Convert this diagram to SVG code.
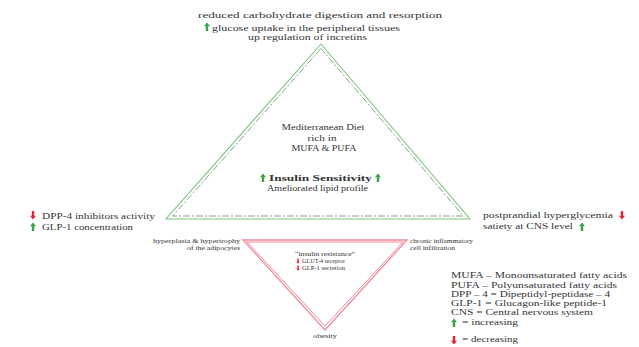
<svg xmlns="http://www.w3.org/2000/svg" width="639" height="347" viewBox="0 0 639 347">
<style>
text{font-family:"Liberation Serif","DejaVu Serif",serif;fill:#333;lengthAdjust:spacingAndGlyphs}
.s9{font-size:9px}
.s8{font-size:8px}
.s7{font-size:7.5px}
.s6{font-size:6px}
.b{font-weight:bold}
.gsol{fill:none;stroke:#7cc77c;stroke-width:1.1}
.gdash{fill:none;stroke:#5f8f5f;stroke-width:0.8;stroke-dasharray:7 2 2 2}
.rout{fill:none;stroke:#f28a9c;stroke-width:1.3}
.rin{fill:none;stroke:#e2556f;stroke-width:0.7}
</style>
<defs>
<path id="up" d="M0,-4.5 L3,-0.8 L1.2,-0.8 L1.2,4 L-1.2,4 L-1.2,-0.8 L-3,-0.8 Z" fill="#3aa34a"/>
<path id="dn" d="M0,4.5 L3,0.8 L1.2,0.8 L1.2,-4 L-1.2,-4 L-1.2,0.8 L-3,0.8 Z" fill="#e0253a"/>
</defs>
<rect width="639" height="347" fill="#ffffff"/>

<g id="connectors">
<polygon class="gsol" points="321,44 166,219 470,219"/>
<polygon class="gdash" points="321,48.5 172.7,216 463.3,216"/>
<polygon class="rout" points="243,240 407,240 325,330"/>
<polygon class="rin" points="247,242 403,242 325,326"/>
</g>

<g id="top">
<text class="s9" x="320" y="18" text-anchor="middle" textLength="244" lengthAdjust="spacingAndGlyphs">reduced carbohydrate digestion and resorption</text>
<use href="#up" x="207" y="27"/>
<text class="s7" x="212" y="30.5" textLength="188" lengthAdjust="spacingAndGlyphs">glucose uptake in the peripheral tissues</text>
<text class="s7" x="248" y="39.5" textLength="119" lengthAdjust="spacingAndGlyphs">up regulation of incretins</text>
</g>

<g id="center">
<text class="s9" x="323" y="130" text-anchor="middle" textLength="83" lengthAdjust="spacingAndGlyphs">Mediterranean Diet</text>
<text class="s9" x="322" y="141" text-anchor="middle" textLength="29" lengthAdjust="spacingAndGlyphs">rich in</text>
<text class="s9" x="324" y="151" text-anchor="middle" textLength="65" lengthAdjust="spacingAndGlyphs">MUFA &amp; PUFA</text>
<use href="#up" x="263" y="178"/>
<text class="s9 b" x="269" y="181" textLength="103" lengthAdjust="spacingAndGlyphs">Insulin Sensitivity</text>
<use href="#up" x="378" y="178"/>
<text class="s8" x="267" y="191" textLength="101" lengthAdjust="spacingAndGlyphs">Ameliorated lipid profile</text>
</g>

<g id="left">
<use href="#dn" x="33" y="215"/>
<text class="s8" x="42" y="219" textLength="113" lengthAdjust="spacingAndGlyphs">DPP-4 inhibitors activity</text>
<use href="#up" x="33" y="227"/>
<text class="s8" x="42" y="230" textLength="91" lengthAdjust="spacingAndGlyphs">GLP-1 concentration</text>
</g>

<g id="right">
<text class="s8" x="483" y="218" textLength="130" lengthAdjust="spacingAndGlyphs">postprandial hyperglycemia</text>
<use href="#dn" x="622" y="215"/>
<text class="s8" x="483" y="229" textLength="90" lengthAdjust="spacingAndGlyphs">satiety at CNS level</text>
<use href="#up" x="582" y="227"/>
</g>

<g id="adipocytes">
<text class="s6" x="240" y="243" text-anchor="end" textLength="87" lengthAdjust="spacingAndGlyphs">hyperplasia &amp; hypertrophy</text>
<text class="s6" x="240" y="250" text-anchor="end" textLength="53" lengthAdjust="spacingAndGlyphs">of the adipocytes</text>
</g>

<g id="inflammation">
<text class="s6" x="410" y="243" textLength="63" lengthAdjust="spacingAndGlyphs">chronic inflammatory</text>
<text class="s6" x="410" y="250" textLength="45" lengthAdjust="spacingAndGlyphs">cell infiltration</text>
</g>

<g id="resistance">
<text class="s6" x="325" y="256" text-anchor="middle" textLength="60" lengthAdjust="spacingAndGlyphs">“insulin resistance”</text>
<use href="#dn" x="298" y="261" transform="translate(298 261) scale(0.6) translate(-298 -261)"/>
<text class="s6" x="302" y="263" textLength="43" lengthAdjust="spacingAndGlyphs">GLUT-4 receptor</text>
<use href="#dn" x="298" y="268" transform="translate(298 268) scale(0.6) translate(-298 -268)"/>
<text class="s6" x="302" y="270" textLength="43" lengthAdjust="spacingAndGlyphs">GLP-1 secretion</text>
</g>

<g id="obesity">
<text class="s6" x="325" y="338" text-anchor="middle" textLength="24" lengthAdjust="spacingAndGlyphs">obesity</text>
</g>

<g id="legend">
<text class="s9" x="451" y="278" textLength="176" lengthAdjust="spacingAndGlyphs">MUFA – Monounsaturated  fatty acids</text>
<text class="s9" x="451" y="288" textLength="166" lengthAdjust="spacingAndGlyphs">PUFA – Polyunsaturated  fatty acids</text>
<text class="s9" x="451" y="297" textLength="159" lengthAdjust="spacingAndGlyphs">DPP – 4 = Dipeptidyl-peptidase  – 4</text>
<text class="s9" x="451" y="306" textLength="156" lengthAdjust="spacingAndGlyphs">GLP-1 = Glucagon-like  peptide-1</text>
<text class="s9" x="451" y="315" textLength="142" lengthAdjust="spacingAndGlyphs">CNS = Central nervous  system</text>
<use href="#up" x="454" y="323"/>
<text class="s7" x="462" y="325" textLength="56" lengthAdjust="spacingAndGlyphs">= increasing</text>
<use href="#dn" x="454" y="340"/>
<text class="s7" x="462" y="342" textLength="56" lengthAdjust="spacingAndGlyphs">= decreasing</text>
</g>
</svg>
